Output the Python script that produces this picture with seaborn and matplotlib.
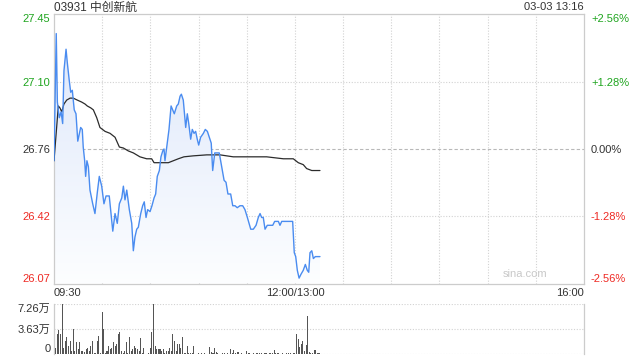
import numpy as np
import pandas as pd
import matplotlib
matplotlib.use("Agg")
import matplotlib.pyplot as plt
import seaborn as sns
from matplotlib.patches import PathPatch
from matplotlib.transforms import blended_transform_factory

# ---------------- data ----------------
title_left = "03931 中创新航"
title_right = "03-03 13:16"
prev_close = 26.76
price_ticks = [26.07, 26.42, 26.76, 27.10, 27.45]
pct_labels = ["-2.56%", "-1.28%", "0.00%", "+1.28%", "+2.56%"]
x_labels = ["09:30", "12:00/13:00", "16:00"]
x_label_pos = [0, 150, 330]          # trading minutes since 09:30 (lunch removed)
vol_ticks = [0, 3.63, 7.26]
vol_labels = ["0", "3.63万", "7.26万"]

# price (minutes since open, price)
price_t = [0, 1.4, 2.1, 3.3, 4.4, 5.4, 6.2, 7.5, 8.3, 9.5,
           10.4, 11.4, 12.0, 12.6, 13.7, 14.8, 15.8, 16.6, 17.6, 18.2,
           19.1, 19.7, 20.5, 21.4, 22.4, 24.1, 25.5, 27.0, 28.2, 29.7,
           31.1, 32.4, 34.4, 36.6, 38.0, 39.4, 40.7, 42.2, 43.2, 44.2,
           45.3, 46.9, 48.4, 49.4, 50.4, 51.5, 52.5, 54.0, 55.2, 56.2,
           57.3, 58.3, 59.8, 61.0, 62.3, 63.3, 64.3, 65.6, 66.6, 67.7,
           68.5, 69.1, 70.2, 71.6, 72.9, 73.9, 74.9, 76.4, 77.4, 78.5,
           79.3, 80.5, 82.0, 83.0, 83.9, 85.1, 86.1, 87.2, 88.2, 89.2,
           90.1, 91.3, 93.0, 94.2, 95.5, 96.7, 97.9, 98.8, 100.1, 101.3,
           102.9, 104.4, 105.9, 107.1, 108.3, 110.0, 111.3, 112.7, 114.1, 115.8,
           117.5, 118.9, 120.4, 122.5, 124.1, 125.8, 127.2, 128.3, 129.3, 130.3,
           131.4, 132.8, 136.2, 137.4, 139.7, 140.7, 141.8, 148.6, 149.6, 150.5,
           151.5, 152.6, 153.8, 155.2, 156.5, 157.7, 158.6, 159.4, 160.5, 161.5,
           162.7, 163.9, 165.6]
price_v = [26.70, 27.35, 27.00, 26.92, 26.95, 26.89, 27.16, 27.27, 27.20, 27.11,
           27.05, 27.06, 27.01, 26.96, 26.94, 26.80, 26.84, 26.87, 26.86, 26.77,
           26.70, 26.62, 26.70, 26.67, 26.55, 26.48, 26.43, 26.54, 26.62, 26.57,
           26.48, 26.52, 26.52, 26.34, 26.43, 26.38, 26.48, 26.51, 26.57, 26.50,
           26.55, 26.45, 26.38, 26.24, 26.31, 26.35, 26.36, 26.43, 26.47, 26.49,
           26.41, 26.45, 26.44, 26.47, 26.51, 26.53, 26.62, 26.65, 26.72, 26.75,
           26.76, 26.70, 26.77, 26.86, 26.98, 26.96, 26.94, 26.98, 26.99, 27.03,
           27.04, 27.01, 26.87, 26.94, 26.89, 26.81, 26.86, 26.84, 26.85, 26.81,
           26.78, 26.82, 26.84, 26.86, 26.85, 26.82, 26.79, 26.65, 26.74, 26.74,
           26.74, 26.67, 26.60, 26.59, 26.53, 26.53, 26.47, 26.47, 26.46, 26.47,
           26.47, 26.45, 26.41, 26.35, 26.35, 26.37, 26.41, 26.43, 26.41, 26.41,
           26.35, 26.37, 26.37, 26.39, 26.39, 26.37, 26.39, 26.39, 26.23, 26.21,
           26.14, 26.10, 26.12, 26.14, 26.17, 26.14, 26.13, 26.23, 26.24, 26.20,
           26.21, 26.21, 26.21]

# average price line
avg_t = [0, 2.7, 3.7, 4.8, 6.2, 7.9, 10.0, 12.0, 14.5, 17.2,
         19.3, 20.7, 22.9, 24.5, 26.6, 28.6, 31.8, 34.9, 38.0, 40.7,
         43.2, 46.3, 49.4, 53.5, 57.7, 60.8, 62.3, 66.0, 71.2, 74.3,
         77.4, 80.9, 86.7, 95.1, 103.4, 111.6, 122.0, 132.4, 142.8, 149.0,
         152.1, 155.2, 157.3, 160.5, 165.6]
avg_v = [26.70, 26.98, 26.97, 26.95, 26.99, 27.01, 27.02, 27.02, 27.01, 27.00,
         26.99, 26.98, 26.97, 26.96, 26.92, 26.87, 26.85, 26.84, 26.82, 26.77,
         26.765, 26.75, 26.74, 26.72, 26.71, 26.71, 26.69, 26.69, 26.69, 26.70,
         26.71, 26.72, 26.725, 26.73, 26.73, 26.72, 26.72, 26.72, 26.71, 26.71,
         26.69, 26.68, 26.66, 26.65, 26.65]

# volume per minute (万股), minutes 1..166
volume = [0.94, 2.93, 3.43, 2.93, 7.26, 0.94, 1.94, 2.44, 1.19, 1.94,
          0.45, 3.68, 0.45, 1.69, 0.70, 1.79, 0.45, 0.45, 0.30, 0.70,
          0.94, 0.45, 1.19, 1.94, 0.20, 0.20, 1.94, 2.58, 0.20, 6.16,
          3.68, 0.20, 0.45, 1.19, 0.70, 0.94, 1.69, 1.19, 1.44, 2.93,
          3.18, 0.45, 0.20, 0.45, 1.69, 0.20, 2.53, 0.45, 0.70, 1.19,
          0.94, 0.70, 0.45, 2.29, 0.20, 0.94, 0.05, 0.05, 0.20, 0.94,
          3.18, 7.26, 1.19, 0.70, 0.70, 0.70, 0.45, 0.70, 0.20, 0.45,
          0.45, 0.94, 0.45, 2.93, 1.94, 0.45, 1.44, 1.44, 0.94, 2.44,
          0.20, 0.10, 1.20, 0.10, 0.12, 0.10, 1.20, 0.06, 0.06, 0.08,
          0.06, 0.10, 0.06, 0.08, 0.06, 0.05, 1.06, 0.35, 0.10, 0.90,
          0.35, 0.10, 0.06, 0.06, 0.10, 0.15, 0.06, 0.18, 0.05, 0.75,
          0.20, 0.60, 0.10, 0.35, 0.25, 0.06, 0.10, 0.05, 0.05, 0.45,
          0.10, 0.15, 0.06, 0.20, 0.06, 0.20, 0.15, 0.08, 0.10, 0.06,
          0.10, 0.15, 0.06, 0.10, 0.10, 0.15, 0.58, 0.10, 0.15, 0.10,
          0.06, 0.10, 0.06, 0.06, 0.10, 0.08, 0.15, 0.06, 0.15, 0.10,
          2.86, 2.13, 1.02, 1.40, 1.89, 0.44, 1.31, 5.52, 0.25, 0.15,
          0.15, 0.58, 0.58, 0.15, 0.10, 0.06]
vol_minutes = list(range(1, len(volume) + 1))

# ---------------- style ----------------
sns.set_theme(style="white")
plt.rcParams["font.family"] = ["Liberation Sans", "Noto Sans CJK SC"]

GREEN = "#1fa51f"
RED = "#ee2a24"
TXT = "#333333"
GRID = "#d2d2d2"
SPINE = "#cccccc"
BLUE = "#4a8cf0"

fig = plt.figure(figsize=(6.4, 3.6), dpi=100)
W, H = 640, 360
ax = fig.add_axes([54 / W, 1 - 284 / H, 530 / W, 270 / H])
axv = fig.add_axes([54 / W, 1 - 354 / H, 530 / W, 50 / H])

ymin = prev_close * (1 - 0.0256)
ymax = prev_close * (1 + 0.0256)

df_p = pd.DataFrame({"t": price_t, "p": price_v})
df_a = pd.DataFrame({"t": avg_t, "p": avg_v})

# gradient fill under price
poly = ax.fill_between(price_t, price_v, ymin, color="none", lw=0)
path = poly.get_paths()[0]
patch = PathPatch(path, transform=ax.transData, facecolor="none", edgecolor="none")
ax.add_patch(patch)
n = 256
top_c = np.array([0.86, 0.90, 0.98])
bot_c = np.array([0.99, 0.995, 1.0])
frac = np.linspace(0, 1, n)[:, None]
grad = top_c * (1 - frac) + bot_c * frac
img = np.repeat(grad[:, None, :], 2, axis=1)
im = ax.imshow(img, extent=[0, 330, ymin, ymax], aspect="auto", origin="upper",
               zorder=1, interpolation="bilinear")
im.set_clip_path(patch)

sns.lineplot(data=df_p, x="t", y="p", ax=ax, color=BLUE, lw=1.0, sort=False,
             estimator=None, zorder=4)
sns.lineplot(data=df_a, x="t", y="p", ax=ax, color="#2b2b2b", lw=0.9, sort=False,
             estimator=None, zorder=3)

ax.set_xlim(0, 330)
ax.set_ylim(ymin, ymax)
ax.set_xlabel("")
ax.set_ylabel("")

# gridlines
for t in range(30, 330, 30):
    ax.axvline(t, color=GRID, lw=0.8, ls=(0, (1, 1.5)), zorder=0.5)
ax.axhline(price_ticks[1], color=GRID, lw=0.8, ls=(0, (1, 1.5)), zorder=0.5)
ax.axhline(price_ticks[3], color=GRID, lw=0.8, ls=(0, (1, 1.5)), zorder=0.5)
ax.axhline(prev_close, color="#b8b8b8", lw=0.8, ls=(0, (3, 2)), zorder=0.5)

for s in ax.spines.values():
    s.set_color(SPINE)
    s.set_linewidth(0.9)

ax.set_yticks(price_ticks)
ax.set_yticklabels([f"{v:.2f}" for v in price_ticks])
ax.tick_params(axis="y", length=0, pad=2.5, labelsize=8)
ycolors = [RED, RED, TXT, GREEN, GREEN]
for lab, c in zip(ax.get_yticklabels(), ycolors):
    lab.set_color(c)
ylabs = ax.get_yticklabels()
ylabs[0].set_verticalalignment("bottom")
ylabs[-1].set_verticalalignment("top")

ax.set_xticks(x_label_pos)
ax.set_xticklabels(x_labels)
ax.tick_params(axis="x", length=0, pad=3, labelsize=8, labelcolor=TXT)
xlabs = ax.get_xticklabels()
xlabs[0].set_horizontalalignment("left")
xlabs[-1].set_horizontalalignment("right")

# right percent axis
ax2 = ax.twinx()
ax2.set_ylim(ymin, ymax)
ax2.set_yticks(price_ticks)
ax2.set_yticklabels(pct_labels)
ax2.tick_params(axis="y", length=0, pad=5, labelsize=8)
for lab, c in zip(ax2.get_yticklabels(), ycolors):
    lab.set_color(c)
r = ax2.get_yticklabels()
r[0].set_verticalalignment("bottom")
r[-1].set_verticalalignment("top")
for s in ax2.spines.values():
    s.set_visible(False)
ax2.grid(False)

# watermark
ax.text(0.93, 0.02, "sina.com", transform=ax.transAxes, ha="right", va="bottom",
        color="#c8c8c8", fontsize=8)

# titles
fig.text(54 / W, 1 - 7.5 / H, title_left, ha="left", va="center", fontsize=8.5, color=TXT)
fig.text(584 / W, 1 - 7.5 / H, title_right, ha="right", va="center", fontsize=8, color=TXT)

# volume
axv.bar(vol_minutes, volume, width=0.65, color="#555555", linewidth=0, zorder=3)
axv.set_xlim(0, 330)
axv.set_ylim(0, 7.26)
for v in vol_ticks:
    axv.axhline(v, color=GRID, lw=0.8, ls=(0, (1, 1.5)), zorder=0.5)
axv.set_yticks(vol_ticks)
axv.set_yticklabels(vol_labels)
axv.tick_params(axis="y", length=0, pad=2.5, labelsize=8, labelcolor=TXT)
vl = axv.get_yticklabels()
vl[0].set_verticalalignment("bottom")
vl[-1].set_verticalalignment("top")
axv.set_xticks([])
for k, s in axv.spines.items():
    if k in ("top", "bottom"):
        s.set_visible(False)
    else:
        s.set_color(SPINE)
        s.set_linewidth(0.9)
axv.grid(False)
ax.grid(False)

fig.savefig("out.png", dpi=100)
